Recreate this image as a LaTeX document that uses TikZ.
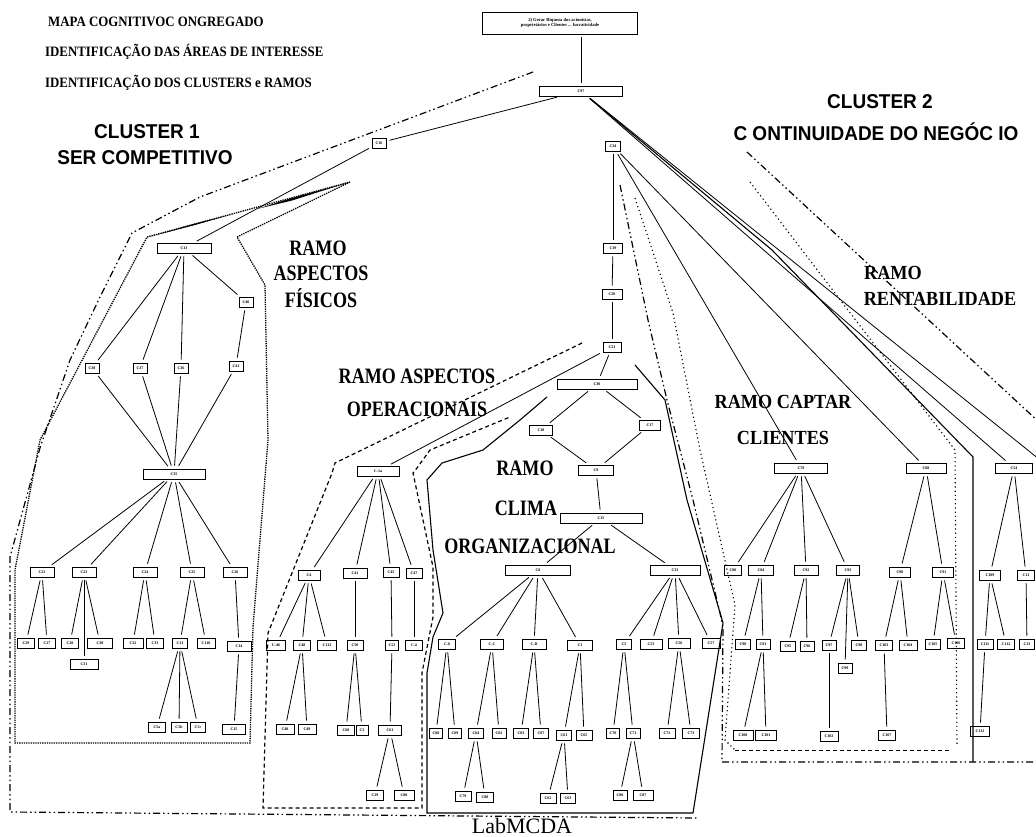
\documentclass[tikz,border=0pt]{standalone}
\usepackage{fontspec}
\setmainfont{Liberation Serif}
\newfontfamily\headfont[FakeStretch=0.9]{Liberation Serif}
\newfontfamily\ramofont[FakeStretch=0.82]{Liberation Serif}
\newfontfamily\ramobfont[FakeStretch=0.91]{Liberation Serif}
\newfontfamily\clusterfont[FakeStretch=0.95]{Liberation Sans}
% node box: name, x, y, width, label
\newcommand\nbx[5]{\node[cb,minimum width=#4pt] (#1) at (#2,#3) {#5};}
\begin{document}
\begin{tikzpicture}[x=1pt,y=-1pt,
  cb/.style={draw,line width=0.9pt,inner sep=0pt,minimum height=10pt,
    font=\fontsize{4}{4}\selectfont\bfseries},
  ln/.style={line width=0.8pt,shorten <=3pt,shorten >=3pt},
  head/.style={anchor=west,inner sep=0pt,font=\headfont\bfseries\fontsize{14.3}{14.3}\selectfont},
  clus/.style={inner sep=0pt,font=\clusterfont\bfseries\fontsize{20}{20}\selectfont},
  ramo/.style={inner sep=0pt,font=\ramofont\bfseries\fontsize{22}{22}\selectfont},
  ramob/.style={inner sep=0pt,font=\ramobfont\bfseries\fontsize{20}{20}\selectfont},
  dashdot/.style={line width=1.2pt,dash pattern=on 7pt off 3pt on 1.5pt off 3pt on 1.5pt off 3pt},
  grain/.style={line width=1.3pt,densely dotted},
  dashb/.style={line width=1.2pt,dash pattern=on 4pt off 3pt},
  dots/.style={line width=1.1pt,dash pattern=on 1.2pt off 3pt},
  solidb/.style={line width=1.1pt}
]
\useasboundingbox (0,0) rectangle (1036,837);

% ---------- titles ----------
\node[head] (t1) at (48,22) {MAPA COGNITIVOC ONGREGADO};
\node[head] (t2) at (45,52) {IDENTIFICAÇÃO DAS ÁREAS DE INTERESSE};
\node[head] (t3) at (45,83) {IDENTIFICAÇÃO DOS CLUSTERS e RAMOS};
\node[clus] (cl1a) at (147,132) {CLUSTER 1};
\node[clus] (cl1b) at (145,158) {SER COMPETITIVO};
\node[clus] (cl2a) at (880,102) {CLUSTER 2};
\node[clus] (cl2b) at (876,132) {C ONTINUIDADE DO NEGÓC IO};
\node[ramo] (rf1) at (318,248) {RAMO};
\node[ramo] (rf2) at (321,273) {ASPECTOS};
\node[ramo] (rf3) at (321,298) {FÍSICOS};
\node[ramo] (ro1) at (417,376) {RAMO ASPECTOS};
\node[ramo] (ro2) at (417,409) {OPERACIONAIS};
\node[ramo] (rc1) at (525,468) {RAMO};
\node[ramo] (rc2) at (526,508) {CLIMA};
\node[ramo] (rc3) at (530,546) {ORGANIZACIONAL};
\node[ramob] (rk1) at (783,402) {RAMO CAPTAR};
\node[ramob] (rk2) at (783,438) {CLIENTES};
\node[ramob] (rr1) at (893,273) {RAMO};
\node[ramob] (rr2) at (940,299) {RENTABILIDADE};
\node[anchor=north,inner sep=0pt,font=\fontsize{22}{22}\selectfont] (lab) at (522,818) {LabMCDA};

% ---------- top ----------
\node[draw,line width=0.9pt,inner sep=1pt,minimum width=155pt,minimum height=22pt,align=center,
  font=\fontsize{4.6}{5}\selectfont\bfseries] (root) at (560,23)
  {2) Gerar Riqueza dos acionistas,\\ proprietários e Clientes ... lucratividade};
\nbx{c97}{581}{91}{83}{C97}
\draw[ln] (c97.north) -- (c97.north |- root.south);

% ---------- cluster 1 ----------
\nbx{cn}{379}{143}{14}{C16}
\nbx{c13}{184}{248}{54}{C13}
\nbx{p1}{92}{368}{14}{C38}
\nbx{p2}{140}{368}{14}{C37}
\nbx{p3}{181}{368}{14}{C36}
\nbx{p4}{246}{302}{14}{C40}
\nbx{p5}{236}{366}{14}{C41}
\nbx{c1m}{174}{474}{62}{C35}
\nbx{a}{42}{572}{24}{C22}
\nbx{b}{84}{572}{24}{C23}
\nbx{c}{145}{572}{24}{C24}
\nbx{d}{192}{572}{24}{C25}
\nbx{e}{235}{572}{24}{C26}
\nbx{a1}{26}{643}{17}{C29}
\nbx{a2}{47}{643}{17}{C27}
\nbx{b1}{70}{643}{17}{C28}
\nbx{b2}{100}{643}{25}{C30}
\nbx{b3}{84}{664}{28}{C31}
\nbx{c1}{133}{643}{20}{C32}
\nbx{c2}{155}{643}{17}{C33}
\nbx{d1}{180}{643}{15}{C11}
\nbx{d2}{206}{643}{18}{C110}
\nbx{e1}{239}{646}{24}{C14}
\nbx{d1a}{157}{727}{17}{C5a}
\nbx{d1b}{179}{727}{16}{C5b}
\nbx{d1c}{198}{727}{15}{C5c}
\nbx{e1a}{234}{729}{23}{C15}
\draw[ln] (c97) -- (cn);
\draw[ln] (cn) -- (c13);
\foreach \k in {p1,p2,p3,p4} \draw[ln] (c13) -- (\k);
\draw[ln] (p4) -- (p5);
\foreach \k in {p1,p2,p3,p5} \draw[ln] (\k) -- (c1m);
\foreach \k in {a,b,c,d,e} \draw[ln] (c1m) -- (\k);
\draw[ln] (a) -- (a1); \draw[ln] (a) -- (a2);
\draw[ln] (b) -- (b1); \draw[ln] (b) -- (b2); \draw[ln] (b) -- (b3);
\draw[ln] (c) -- (c1); \draw[ln] (c) -- (c2);
\draw[ln] (d) -- (d1); \draw[ln] (d) -- (d2);
\draw[ln] (e) -- (e1);
\draw[ln] (d1) -- (d1a); \draw[ln] (d1) -- (d1b); \draw[ln] (d1) -- (d1c);
\draw[ln] (e1) -- (e1a);

% ---------- cluster 2: central column ----------
\nbx{c34}{613}{146}{15}{C34}
\nbx{c19}{613}{248}{19}{C19}
\nbx{c20}{612}{294}{20}{C20}
\nbx{c21}{612}{347}{18}{C21}
\nbx{c30}{597}{384}{80}{C30}
\nbx{c18}{541}{430}{23}{C18}
\nbx{c17}{650}{425}{21}{C17}
\nbx{cst}{596}{470}{35}{C9}
\nbx{c15}{601}{518}{82}{C15}
\draw[ln] (c34) -- (c19);
\draw[ln] (c19) -- (c20);
\draw[ln] (c20) -- (c21);
\draw[ln] (c21) -- (c30);
\draw[ln] (c30) -- (c18); \draw[ln] (c30) -- (c17);
\draw[ln] (c18) -- (cst); \draw[ln] (c17) -- (cst);
\draw[ln] (cst) -- (c15);

% ramo aspectos operacionais
\nbx{c1a}{378}{471}{42}{C-1a}
\nbx{h1}{309}{575}{22}{C4}
\nbx{h2}{355}{573}{24}{C41}
\nbx{h3}{391}{572}{16}{C45}
\nbx{h4}{414}{573}{16}{C47}
\nbx{h1a}{276}{645}{19}{C-46}
\nbx{h1b}{302}{645}{17}{C48}
\nbx{h1c}{327}{645}{19}{C113}
\nbx{h2a}{355}{645}{16}{C50}
\nbx{h3a}{392}{645}{13}{C52}
\nbx{h4a}{414}{645}{17}{C.4}
\nbx{h1ba}{285}{729}{18}{C48}
\nbx{h1bb}{307}{729}{18}{C49}
\nbx{h2aa}{346}{730}{17}{C60}
\nbx{h2ab}{362}{730}{12}{C3}
\nbx{h3aa}{390}{730}{23}{C61}
\nbx{h3aaa}{375}{795}{17}{C29}
\nbx{h3aab}{404}{795}{20}{C80}
\draw[ln] (c21) -- (c1a);
\foreach \k in {h1,h2,h3,h4} \draw[ln] (c1a) -- (\k);
\draw[ln] (h1) -- (h1a); \draw[ln] (h1) -- (h1b); \draw[ln] (h1) -- (h1c);
\draw[ln] (h2) -- (h2a); \draw[ln] (h3) -- (h3a); \draw[ln] (h4) -- (h4a);
\draw[ln] (h1b) -- (h1ba); \draw[ln] (h1b) -- (h1bb);
\draw[ln] (h2a) -- (h2aa); \draw[ln] (h2a) -- (h2ab);
\draw[ln] (h3a) -- (h3aa);
\draw[ln] (h3aa) -- (h3aaa); \draw[ln] (h3aa) -- (h3aab);

% ramo clima organizacional
\nbx{c8}{538}{570}{65}{C8}
\nbx{c33}{675}{570}{50}{C33}
\nbx{f1}{447}{644}{17}{C.0}
\nbx{f2}{492}{644}{23}{C.C}
\nbx{f3}{534}{644}{24}{C.D}
\nbx{f4}{580}{645}{25}{C1}
\nbx{g1}{624}{644}{15}{C5}
\nbx{g2}{651}{644}{22}{C53}
\nbx{g3}{679}{643}{22}{C56}
\nbx{g4}{711}{643}{18}{C57}
\nbx{f1a}{436}{733}{13}{C08}
\nbx{f1b}{455}{733}{13}{C09}
\nbx{f2a}{476}{733}{15}{C04}
\nbx{f2b}{499}{733}{14}{C02}
\nbx{f3a}{521}{733}{15}{C03}
\nbx{f3b}{541}{733}{15}{C07}
\nbx{f4a}{564}{735}{15}{C61}
\nbx{f4b}{584}{735}{16}{C65}
\nbx{g1a}{613}{733}{13}{C70}
\nbx{g1b}{633}{733}{14}{C71}
\nbx{g3a}{667}{733}{16}{C72}
\nbx{g3b}{691}{733}{17}{C73}
\nbx{f2aa}{463}{796}{16}{C79}
\nbx{f2ab}{485}{797}{17}{C88}
\nbx{f4aa}{548}{798}{16}{C62}
\nbx{f4ab}{568}{798}{15}{C63}
\nbx{g1ba}{620}{795}{14}{C86}
\nbx{g1bb}{643}{795}{20}{C87}
\draw[ln] (c15) -- (c8); \draw[ln] (c15) -- (c33);
\foreach \k in {f1,f2,f3,f4} \draw[ln] (c8) -- (\k);
\foreach \k in {g1,g2,g3,g4} \draw[ln] (c33) -- (\k);
\draw[ln] (f1) -- (f1a); \draw[ln] (f1) -- (f1b);
\draw[ln] (f2) -- (f2a); \draw[ln] (f2) -- (f2b);
\draw[ln] (f3) -- (f3a); \draw[ln] (f3) -- (f3b);
\draw[ln] (f4) -- (f4a); \draw[ln] (f4) -- (f4b);
\draw[ln] (g1) -- (g1a); \draw[ln] (g1) -- (g1b);
\draw[ln] (g3) -- (g3a); \draw[ln] (g3) -- (g3b);
\draw[ln] (f2a) -- (f2aa); \draw[ln] (f2a) -- (f2ab);
\draw[ln] (f4a) -- (f4aa); \draw[ln] (f4a) -- (f4ab);
\draw[ln] (g1b) -- (g1ba); \draw[ln] (g1b) -- (g1bb);

% ramo captar clientes
\nbx{c79}{801}{468}{53}{C79}
\nbx{i1}{733}{570}{17}{C80}
\nbx{i2}{761}{570}{25}{C84}
\nbx{i3}{806}{570}{24}{C92}
\nbx{i4}{848}{570}{23}{C93}
\nbx{i2a}{743}{644}{15}{C90}
\nbx{i2b}{763}{644}{14}{C91}
\nbx{i3a}{788}{646}{15}{C95}
\nbx{i3b}{807}{646}{14}{C96}
\nbx{i4a}{829}{645}{14}{C97}
\nbx{i4b}{859}{645}{15}{C98}
\nbx{i4c}{845}{668}{14}{C99}
\nbx{i2ba}{743}{735}{20}{C100}
\nbx{i2bb}{766}{735}{21}{C101}
\nbx{i4aa}{829}{736}{18}{C102}
\draw[ln] (c34) -- (c79);
\foreach \k in {i1,i2,i3,i4} \draw[ln] (c79) -- (\k);
\draw[ln] (i2) -- (i2a); \draw[ln] (i2) -- (i2b);
\draw[ln] (i3) -- (i3a); \draw[ln] (i3) -- (i3b);
\draw[ln] (i4) -- (i4a); \draw[ln] (i4) -- (i4b); \draw[ln] (i4) -- (i4c);
\draw[ln] (i2b) -- (i2ba); \draw[ln] (i2b) -- (i2bb);
\draw[ln] (i4a) -- (i4aa);

\nbx{c80}{926}{468}{40}{C88}
\nbx{j1}{900}{572}{21}{C90}
\nbx{j2}{943}{572}{21}{C91}
\nbx{j1a}{884}{645}{17}{C103}
\nbx{j1b}{908}{645}{18}{C104}
\nbx{j2a}{933}{644}{15}{C105}
\nbx{j2b}{956}{643}{17}{C106}
\nbx{j1aa}{887}{735}{17}{C107}
\draw[ln] (c34) -- (c80);
\draw[ln] (c80) -- (j1); \draw[ln] (c80) -- (j2);
\draw[ln] (j1) -- (j1a); \draw[ln] (j1) -- (j1b);
\draw[ln] (j2) -- (j2a); \draw[ln] (j2) -- (j2b);
\draw[ln] (j1a) -- (j1aa);

% ramo rentabilidade
\nbx{c54}{1014}{468}{37}{C54}
\nbx{k1}{990}{575}{21}{C109}
\nbx{k2}{1026}{575}{17}{C11}
\nbx{k1a}{985}{644}{16}{C111}
\nbx{k1b}{1006}{644}{17}{C112}
\nbx{k2a}{1027}{644}{15}{C13}
\nbx{k1aa}{980}{731}{19}{C112}
\draw[ln] (c97) -- (c54);
\draw[ln] (c54) -- (k1); \draw[ln] (c54) -- (k2);
\draw[ln] (k1) -- (k1a); \draw[ln] (k1) -- (k1b);
\draw[ln] (k2) -- (k2a);
\draw[ln] (k1a) -- (k1aa);
\coordinate (offr) at (1060,476);
\draw[ln] (c97) -- (offr);

% ---------- outlines ----------
% cluster 1
\draw[dashdot] (533,72) -- (200,197) -- (132,233) -- (100,297) -- (70,360) -- (40,448)
  -- (10,557) -- (10,812) -- (697,818);
\draw[grain] (350,182) -- (237,237) -- (265,285) -- (268,440) -- (253,627) -- (250,743)
  -- (15,743) -- (15,570) -- (40,440) -- (147,237) -- cycle;
\fill (147,237.5) -- (195,223.5) -- (233,214) -- (195,225) -- cycle;
\fill (257,209) -- (290,198.5) -- (350,182) -- (292,200.5) -- cycle;
% ramo aspectos operacionais
\draw[dashb] (582,343) -- (335,463) -- (332,473) -- (268,633) -- (263,808) -- (422,808)
  -- (422,673) -- (433,617) -- (433,567) -- (413,473) -- (417,468) -- (430,450) -- (510,417);
% ramo clima organizacional
\draw[solidb] (547,397) -- (520,420) -- (483,450) -- (442,463) -- (427,480) -- (433,550)
  -- (443,613) -- (433,637) -- (427,673) -- (427,813) -- (693,813) -- (723,623)
  -- (687,500) -- (665,400) -- (635,365);
% cluster 2
\draw[dashdot] (620,185) -- (648,320) -- (667,400) -- (693,500) -- (720,613) -- (723,627)
  -- (722,762) -- (1040,762);
\draw[dashdot] (747,152) -- (1040,423);
% ramo captar clientes
\draw[dots] (635,198) -- (673,313) -- (700,450) -- (735,605) -- (725,740) -- (735,750);
\draw[dashb,line width=0.9pt] (735,750) -- (950,750);
\draw[dots] (750,182) -- (955,450) -- (957,745);
% ramo rentabilidade
\coordinate (r1) at (772,250);
\coordinate (r2) at (973,457);
\coordinate (r3) at (973,762);
\draw[solidb,shorten <=3pt] (c97) -- (r1) -- (r2) -- (r3);
\end{tikzpicture}
\end{document}
